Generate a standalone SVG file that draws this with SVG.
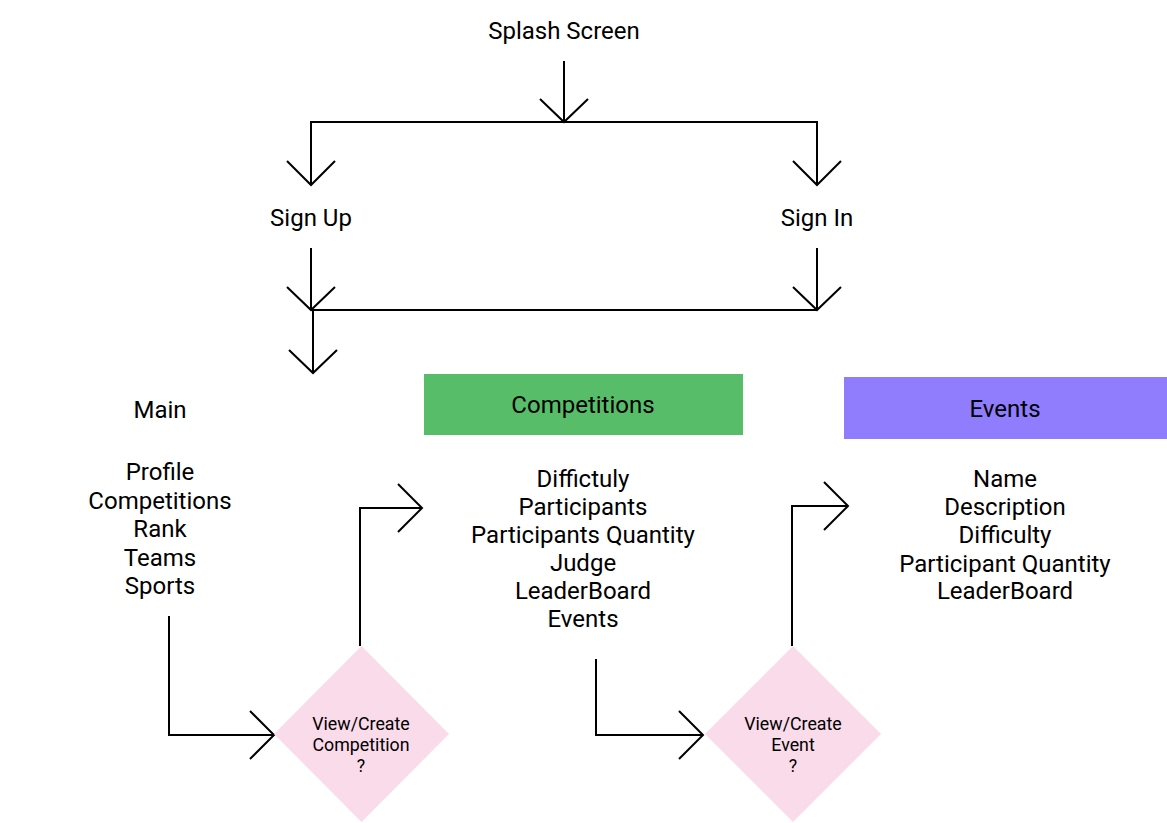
<svg xmlns="http://www.w3.org/2000/svg" width="1167" height="823" viewBox="0 0 1167 823">
<style>
.t{font-family:Roboto,"Liberation Sans",sans-serif;font-size:24px;fill:#000;text-anchor:middle}
.s{font-family:Roboto,"Liberation Sans",sans-serif;font-size:17.8px;fill:#000;text-anchor:middle}
.c{fill:none;stroke:#000;stroke-width:2}
</style>
<rect width="1167" height="823" fill="#fff"/>
<g id="connectors" class="c">
<path d="M564 61V122M540 99L564 122L588 99"/>
<path d="M311 185V122H817V185M287 161L311 185L335 161M793 161L817 185L841 161"/>
<path d="M311 248V310M287 287L311 310L335 287"/>
<path d="M817 248V310M793 287L817 310L841 287"/>
<path d="M311 310H817"/>
<path d="M313 310V373M289 350L313 373L337 350"/>
<path d="M169 616V735H274M250 711L274 735L250 759"/>
<path d="M360 646V508H422M398 484L422 508L398 532"/>
<path d="M596 659V735H703M679 711L703 735L679 759"/>
<path d="M792 646V506H848M824 482L848 506L824 530"/>
</g>
<g id="splash"><text class="t" x="564" y="39">Splash Screen</text></g>
<g id="signup"><text class="t" x="311" y="226">Sign Up</text></g>
<g id="signin"><text class="t" x="817" y="226">Sign In</text></g>
<g id="main">
<text class="t" x="160" y="418">Main</text>
<text class="t" x="160" y="480">Profile</text>
<text class="t" x="160" y="508.5">Competitions</text>
<text class="t" x="160" y="537">Rank</text>
<text class="t" x="160" y="565.5">Teams</text>
<text class="t" x="160" y="594">Sports</text>
</g>
<g id="competitions">
<rect x="424" y="374" width="319" height="61" fill="#57bd69"/>
<text class="t" x="583" y="413">Competitions</text>
<text class="t" x="583" y="487">Diffictuly</text>
<text class="t" x="583" y="515">Participants</text>
<text class="t" x="583" y="543">Participants Quantity</text>
<text class="t" x="583" y="571">Judge</text>
<text class="t" x="583" y="599">LeaderBoard</text>
<text class="t" x="583" y="627">Events</text>
</g>
<g id="events">
<rect x="844" y="377" width="323" height="62" fill="#907dfd"/>
<text class="t" x="1005" y="417">Events</text>
<text class="t" x="1005" y="487">Name</text>
<text class="t" x="1005" y="515">Description</text>
<text class="t" x="1005" y="543">Difficulty</text>
<text class="t" x="1005" y="571.5">Participant Quantity</text>
<text class="t" x="1005" y="599">LeaderBoard</text>
</g>
<g id="decision-competition">
<polygon points="361.5,646 449,734 361.5,822 274,734" fill="#fadbea"/>
<text class="s" x="361" y="730">View/Create</text>
<text class="s" x="361" y="751">Competition</text>
<text class="s" x="361" y="772">?</text>
</g>
<g id="decision-event">
<polygon points="793,646 881,734 793,822 705,734" fill="#fadbea"/>
<text class="s" x="793" y="730">View/Create</text>
<text class="s" x="793" y="751">Event</text>
<text class="s" x="793" y="772">?</text>
</g>
</svg>
